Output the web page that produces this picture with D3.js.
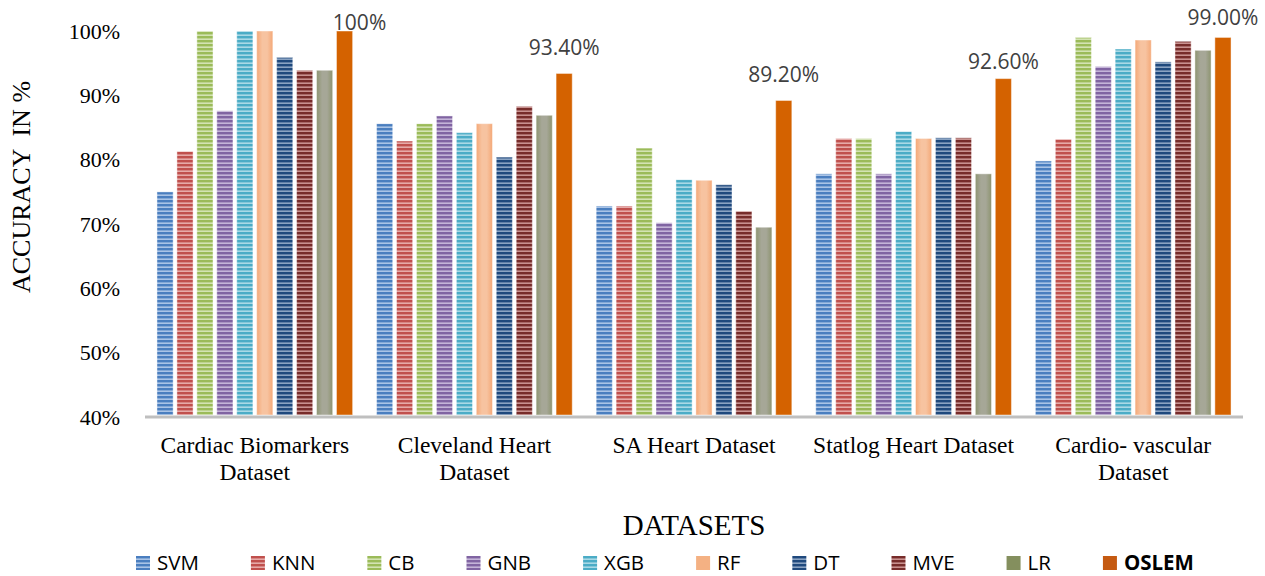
<!DOCTYPE html>
<html>
<head>
<meta charset="utf-8">
<script src="https://cdnjs.cloudflare.com/ajax/libs/d3/7.8.5/d3.min.js"></script>
<style>
  body { margin: 0; background: #fff; }
  svg { display: block; }
</style>
</head>
<body>
<div id="chart"></div>
<script>
let categories = ["Cardiac Biomarkers\nDataset", "Cleveland Heart\nDataset", "SA Heart Dataset", "Statlog Heart Dataset", "Cardio- vascular\nDataset"]
let models = ["SVM", "KNN", "CB", "GNB", "XGB", "RF", "DT", "MVE", "LR", "OSLEM"]

let SVM = [75.0, 85.6, 72.8, 77.8, 79.8]
let KNN = [81.3, 82.9, 72.8, 83.3, 83.2]
let CB = [100, 85.6, 81.8, 83.3, 99.0]
let GNB = [87.6, 86.8, 70.2, 77.8, 94.5]
let XGB = [100, 84.2, 76.9, 84.4, 97.2]
let RF = [100, 85.6, 76.8, 83.3, 98.6]
let DT = [95.9, 80.4, 76.1, 83.4, 95.2]
let MVE = [93.9, 88.3, 72.0, 83.4, 98.4]
let LR = [93.9, 86.9, 69.5, 77.8, 97.0]
let OSLEM = [100, 93.4, 89.2, 92.6, 99.0]
let oslemLabels = ["100%", "93.40%", "89.20%", "92.60%", "99.00%"]
let yTicks = [40, 50, 60, 70, 80, 90, 100]

let series = { SVM, KNN, CB, GNB, XGB, RF, DT, MVE, LR, OSLEM }

// dark / light stripe colour per model, "solid" ones get no stripes
let styles = {
    SVM: { dark: "#4a7ebf", light: "#a9c3e6", legend: "#4f81bd" },
    KNN: { dark: "#c0504d", light: "#e6aaa8", legend: "#c0504d" },
    CB: { dark: "#9bbb59", light: "#d3e3b3", legend: "#9bbb59" },
    GNB: { dark: "#8064a2", light: "#c4b4d8", legend: "#8064a2" },
    XGB: { dark: "#4bacc6", light: "#a9d9e6", legend: "#4bacc6" },
    RF: { solid: "#f7c3a0", edge: "#f4a877", legend: "#f4b183" },
    DT: { dark: "#1f497d", light: "#8aa3c2", legend: "#2c4d75" },
    MVE: { dark: "#772c2a", light: "#c9918f", legend: "#772c2a" },
    LR: { solid: "#a6a797", edge: "#8d9470", legend: "#848f5e" },
    OSLEM: { solid: "#d46200", edge: "#d46200", legend: "#c55a11" }
}

let W = 1265, H = 576

let svg = d3.select("#chart")
    .append("svg")
    .attr("width", W)
    .attr("height", H)

let defs = svg.append("defs")

models.forEach(m => {
    let s = styles[m]
    if (s.solid) {
        let g = defs.append("linearGradient").attr("id", "fill-" + m)
        g.append("stop").attr("offset", "0%").attr("stop-color", s.edge)
        g.append("stop").attr("offset", "35%").attr("stop-color", s.solid)
        g.append("stop").attr("offset", "65%").attr("stop-color", s.solid)
        g.append("stop").attr("offset", "100%").attr("stop-color", s.edge)
    } else {
        let p = defs.append("pattern")
            .attr("id", "fill-" + m)
            .attr("patternUnits", "userSpaceOnUse")
            .attr("width", 8)
            .attr("height", 4)
        p.append("rect").attr("width", 8).attr("height", 4).attr("fill", s.dark)
        p.append("rect").attr("y", 2.4).attr("width", 8).attr("height", 1.6).attr("fill", s.light)
    }
})

let x0 = d3.scaleBand()
    .domain(categories)
    .range([145, 1243])

let x1 = d3.scaleBand()
    .domain(models)
    .range([0, x0.bandwidth()])
    .paddingInner(0.19)
    .paddingOuter(0.6)

let y = d3.scaleLinear()
    .domain([40, 100])
    .range([417, 31])

// y axis labels
let yAxis = svg.append("g")
    .attr("transform", "translate(145,0)")
    .call(d3.axisLeft(y).tickValues(yTicks).tickSize(0).tickPadding(25).tickFormat(d => d + "%"))
yAxis.select(".domain").remove()
yAxis.selectAll("text")
    .attr("font-family", "Liberation Serif")
    .attr("font-size", 22)
    .attr("fill", "#000")

// bars
let groups = svg.selectAll(".grp")
    .data(categories)
    .enter()
    .append("g")
    .attr("transform", d => "translate(" + x0(d) + ",0)")

groups.selectAll("rect")
    .data((c, i) => models.map(m => ({ m: m, v: series[m][i] })))
    .enter()
    .append("rect")
    .attr("x", d => x1(d.m))
    .attr("y", d => y(d.v))
    .attr("width", x1.bandwidth())
    .attr("height", d => y(40) - y(d.v) - 2)
    .attr("fill", d => "url(#fill-" + d.m + ")")
    .attr("stroke", "rgba(255,255,255,0.45)")
    .attr("stroke-width", 1)

// OSLEM value labels (hand placed in the original, so nudged a little)
let labelGap = [1, 18, 18, 10, 12]
let labelShift = [15, 0, 0, 0, 0]
groups.append("text")
    .attr("x", (c, i) => x1("OSLEM") + x1.bandwidth() / 2 + labelShift[i])
    .attr("y", (c, i) => y(OSLEM[i]) - labelGap[i])
    .attr("text-anchor", "middle")
    .attr("font-family", "Open Sans")
    .attr("font-size", 21)
    .attr("fill", "#404040")
    .text((c, i) => oslemLabels[i])

// baseline
svg.append("line")
    .attr("x1", 145)
    .attr("x2", 1243)
    .attr("y1", y(40))
    .attr("y2", y(40))
    .attr("stroke", "#bfbfbf")
    .attr("stroke-width", 3)

// category labels
svg.selectAll(".cat")
    .data(categories)
    .enter()
    .append("text")
    .attr("x", d => x0(d) + x0.bandwidth() / 2)
    .attr("y", 453)
    .attr("text-anchor", "middle")
    .attr("font-family", "Liberation Serif")
    .attr("font-size", 23.5)
    .attr("fill", "#000")
    .each(function (d) {
        let t = d3.select(this)
        d.split("\n").forEach((line, i) => {
            t.append("tspan")
                .attr("x", x0(d) + x0.bandwidth() / 2)
                .attr("dy", i === 0 ? 0 : 27)
                .text(line)
        })
    })

// axis titles
svg.append("text")
    .attr("x", 694)
    .attr("y", 535)
    .attr("text-anchor", "middle")
    .attr("font-family", "Liberation Serif")
    .attr("font-size", 29)
    .text("DATASETS")

svg.append("text")
    .attr("transform", "translate(30,187) rotate(-90)")
    .attr("text-anchor", "middle")
    .attr("font-family", "Liberation Serif")
    .attr("font-size", 26)
    .attr("xml:space", "preserve")
    .style("white-space", "pre")
    .text("ACCURACY  IN %")

// legend
let legend = svg.append("g").attr("transform", "translate(136,556)")
let lx = 0
models.forEach(m => {
    let item = legend.append("g").attr("transform", "translate(" + lx + ",0)")
    item.append("rect")
        .attr("width", 14)
        .attr("height", 14)
        .attr("fill", styles[m].solid ? styles[m].legend : "url(#fill-" + m + ")")
    let t = item.append("text")
        .attr("x", 21)
        .attr("y", 7)
        .attr("dy", "0.36em")
        .attr("font-family", "Open Sans")
        .attr("font-size", 20.5)
        .attr("font-weight", m === "OSLEM" ? "bold" : "normal")
        .attr("fill", "#000")
        .text(m)
    lx += 21 + t.node().getComputedTextLength() + 52
})
</script>
</body>
</html>
